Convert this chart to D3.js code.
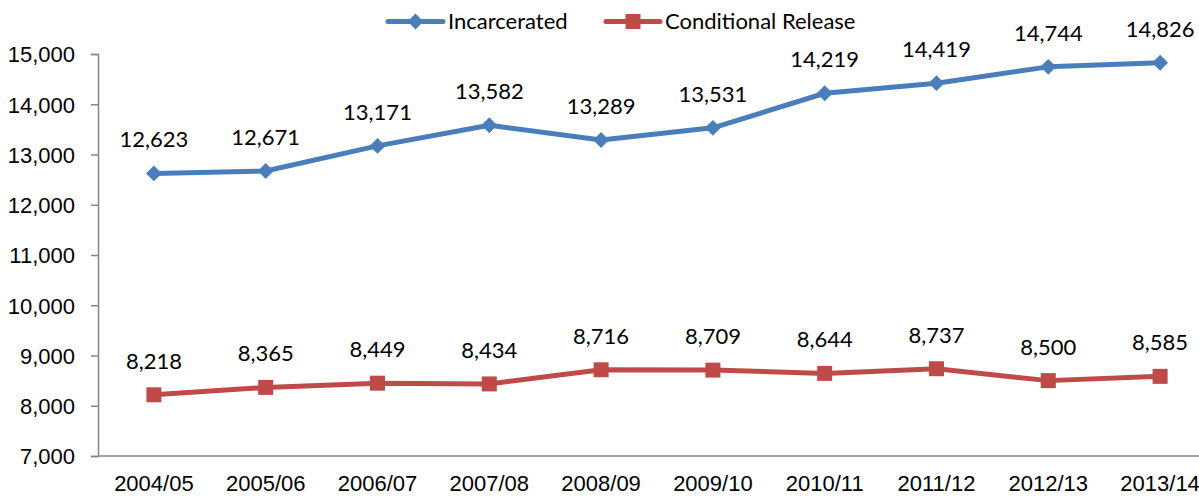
<!DOCTYPE html>
<html>
<head>
<meta charset="utf-8">
<script src="https://cdn.jsdelivr.net/npm/d3@7"></script>
<style>
  html, body { margin: 0; padding: 0; background: #fff; overflow: hidden; }
  svg { display: block; font-family: Lato, "Open Sans", sans-serif; }
</style>
</head>
<body>
<svg id="chart" width="1199" height="498"></svg>
<script>
// Fiscal years
const years = ["2004/05","2005/06","2006/07","2007/08","2008/09","2009/10","2010/11","2011/12","2012/13","2013/14"];
// Offender population counts
const incarcerated = [12623, 12671, 13171, 13582, 13289, 13531, 14219, 14419, 14744, 14826];
const conditionalRelease = [8218, 8365, 8449, 8434, 8716, 8709, 8644, 8737, 8500, 8585];
// Value axis ticks
const yTicks = [7000, 8000, 9000, 10000, 11000, 12000, 13000, 14000, 15000];

const seriesList = [
  { name: "Incarcerated", values: incarcerated, color: "#4a7ebb", marker: "diamond" },
  { name: "Conditional Release", values: conditionalRelease, color: "#be4b48", marker: "square" }
];

const svg = d3.select("#chart");
const plotLeft = 98, plotTop = 54, plotBottom = 456;
const band = 111.8;
const fontSize = "22px";

const x = d3.scaleBand().domain(years).range([plotLeft, plotLeft + band * years.length]).paddingInner(0).paddingOuter(0);
const cx = d => x(d) + x.bandwidth() / 2;
const y = d3.scaleLinear().domain([7000, 15000]).range([plotBottom, plotTop]);

const fmt = d3.format(",");

// Y axis
const yAxis = svg.append("g")
  .attr("transform", `translate(${plotLeft},0)`)
  .call(d3.axisLeft(y).tickValues(yTicks).tickFormat(fmt).tickSize(7).tickPadding(16));
yAxis.select(".domain").attr("stroke", "#868686").attr("stroke-width", 1.5);
yAxis.selectAll(".tick line").attr("stroke", "#868686").attr("stroke-width", 1.5);
yAxis.selectAll(".tick text").attr("fill", "#000").style("font-size", fontSize).attr("dy", "0.36em");

// X axis
const xAxis = svg.append("g")
  .attr("transform", `translate(0,${plotBottom})`)
  .call(d3.axisBottom(x).tickSize(0).tickPadding(19));
xAxis.select(".domain").attr("stroke", "#868686").attr("stroke-width", 1.5)
  .attr("d", `M${plotLeft},0H1199`);
xAxis.selectAll(".tick text").attr("fill", "#000").style("font-size", fontSize);

const line = d3.line().x(d => cx(d.year)).y(d => y(d.v));
const diamond = d3.symbol().type(d3.symbolDiamond2).size(160);

seriesList.forEach(s => {
  const pts = years.map((yr, i) => ({ year: yr, v: s.values[i] }));
  svg.append("path")
    .datum(pts)
    .attr("fill", "none")
    .attr("stroke", s.color)
    .attr("stroke-width", 5)
    .attr("stroke-linejoin", "round")
    .attr("stroke-linecap", "round")
    .attr("d", line);

  const g = svg.append("g");
  if (s.marker === "diamond") {
    g.selectAll("path").data(pts).join("path")
      .attr("d", diamond)
      .attr("transform", d => `translate(${cx(d.year)},${y(d.v)})`)
      .attr("fill", s.color);
  } else {
    g.selectAll("rect").data(pts).join("rect")
      .attr("x", d => cx(d.year) - 7.5)
      .attr("y", d => y(d.v) - 7.5)
      .attr("width", 15).attr("height", 15)
      .attr("fill", s.color);
  }

  svg.append("g").selectAll("text").data(pts).join("text")
    .attr("x", d => cx(d.year))
    .attr("y", d => y(d.v) - 26)
    .attr("text-anchor", "middle")
    .style("font-size", fontSize)
    .attr("fill", "#000")
    .text(d => fmt(d.v));
});

// Legend
const legend = [
  { s: seriesList[0], x1: 388, x2: 443, tx: 448 },
  { s: seriesList[1], x1: 606, x2: 660, tx: 665 }
];
const ly = 21.5;
legend.forEach(l => {
  svg.append("line")
    .attr("x1", l.x1).attr("x2", l.x2).attr("y1", ly).attr("y2", ly)
    .attr("stroke", l.s.color).attr("stroke-width", 5).attr("stroke-linecap", "round");
  const mx = (l.x1 + l.x2) / 2;
  if (l.s.marker === "diamond") {
    svg.append("path").attr("d", diamond).attr("transform", `translate(${mx},${ly})`).attr("fill", l.s.color);
  } else {
    svg.append("rect").attr("x", mx - 7.5).attr("y", ly - 7.5).attr("width", 15).attr("height", 15).attr("fill", l.s.color);
  }
  svg.append("text")
    .attr("x", l.tx).attr("y", ly).attr("dy", "0.36em")
    .style("font-size", fontSize).attr("fill", "#000")
    .text(l.s.name);
});
</script>
</body>
</html>
